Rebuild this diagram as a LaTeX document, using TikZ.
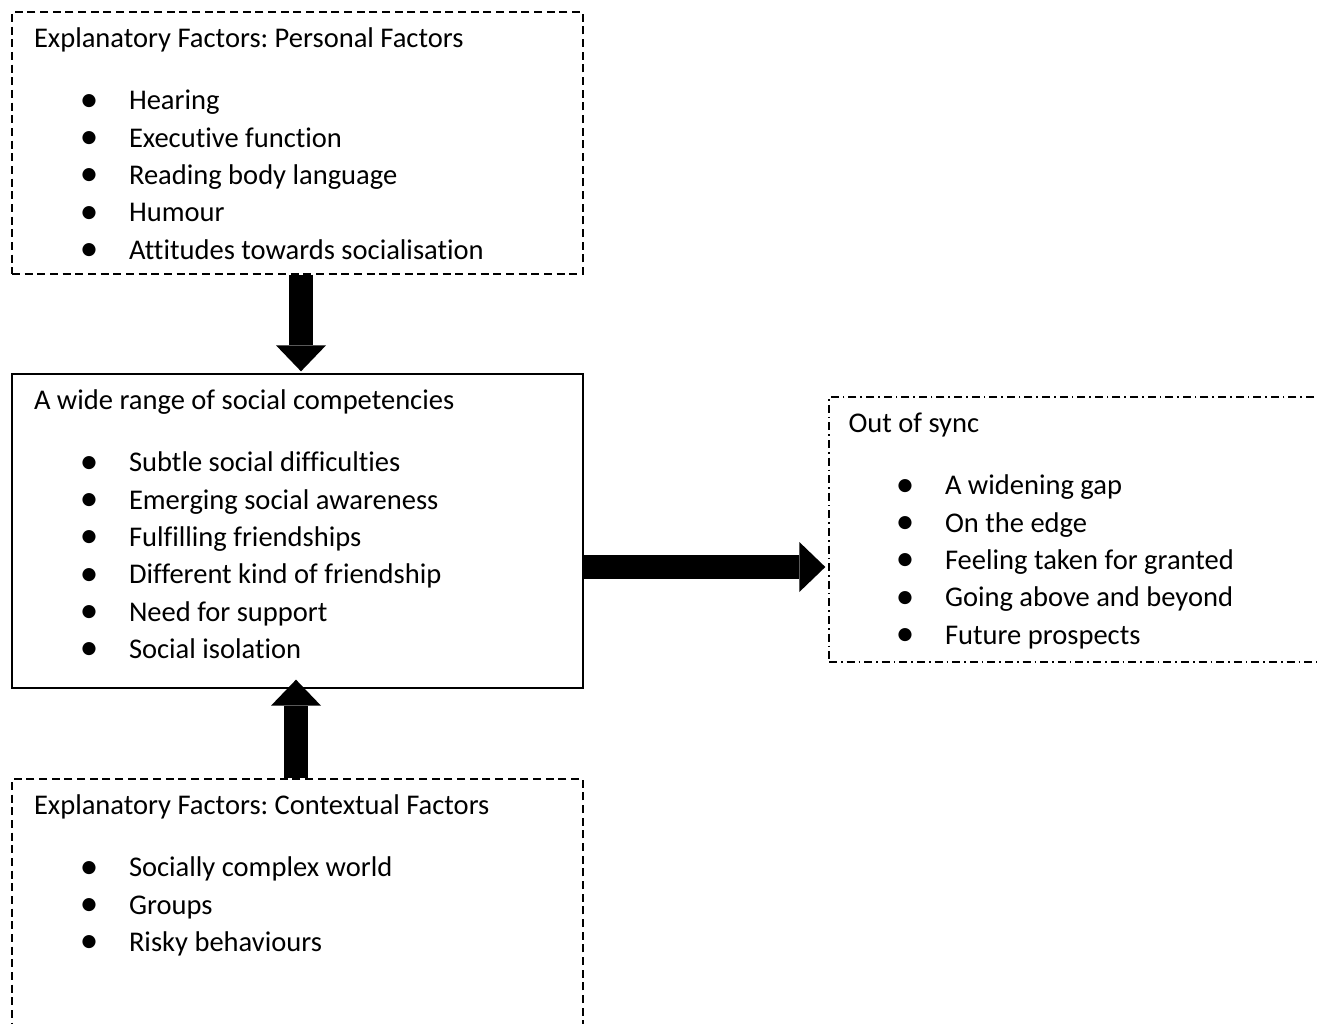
\documentclass[tikz,border=0pt]{standalone}
\usepackage{fontspec}
\setmainfont{Carlito}[Ligatures=CommonOff]
\usetikzlibrary{arrows.meta,calc,fit}
\frenchspacing

\begin{document}
\begin{tikzpicture}[x=0.75pt, y=-0.75pt, line width=1pt,
    blk/.style={line width=18pt, -{Triangle[width=37.5pt,length=19.5pt,line width=0pt]}}]
    \tikzset{
       box/.style={rectangle, draw=black, inner sep=0pt},
       dashbox/.style={box, dash pattern=on 6pt off 3.5pt},
       dotbox/.style={box, dash pattern=on 6pt off 3pt on 1.2pt off 3pt},
       ttl/.style={anchor=base west, inner sep=0pt, font=\fontsize{21.4}{26}\selectfont},
       itm/.style={ttl, execute at begin node={\llap{\makebox[0pt]{\raisebox{-1pt}{\scalebox{1.3}{\textbullet}}}\hspace{30pt}}}},
    }
    \useasboundingbox (0,0) rectangle (1317,1024);
    %--------------------
    \node[dashbox, fit={(12,12) (583,274)}]    (pers) {};
    \node[box,     fit={(12,374) (583,688)}]   (comp) {};
    \node[dashbox, fit={(12,779) (583,1040)}]  (ctx)  {};
    \node[dotbox,  fit={(829,397) (1335,662)}] (sync) {};

    \node[ttl] (pers-t) at ($(pers.north west)+(22,36.5)$) {Explanatory Factors: Personal Factors};
    \foreach \t [count=\i] in {Hearing, Executive function, Reading body language, Humour, Attitudes towards socialisation}
        \node[itm] (pers-\i) at ($(pers-t.base west)+(95,{62+37.3*(\i-1)})$) {\t};

    \node[ttl] (comp-t) at ($(comp.north west)+(22,36.5)$) {A wide range of social competencies};
    \foreach \t [count=\i] in {Subtle social difficulties, Emerging social awareness, Fulfilling friendships, Different kind of friendship, Need for support, Social isolation}
        \node[itm] (comp-\i) at ($(comp-t.base west)+(95,{62+37.3*(\i-1)})$) {\t};

    \node[ttl] (ctx-t) at ($(ctx.north west)+(22,36.5)$) {Explanatory Factors: Contextual Factors};
    \foreach \t [count=\i] in {Socially complex world, Groups, Risky behaviours}
        \node[itm] (ctx-\i) at ($(ctx-t.base west)+(95,{62+37.3*(\i-1)})$) {\t};

    \node[ttl] (sync-t) at ($(sync.north west)+(19.5,36.5)$) {Out of sync};
    \foreach \t [count=\i] in {A widening gap, On the edge, Feeling taken for granted, Going above and beyond, Future prospects}
        \node[itm] (sync-\i) at ($(sync-t.base west)+(96.5,{62+37.3*(\i-1)})$) {\t};
    %--------------------
    \draw[blk] ($(pers.south)+(3.5,0)$) -- ($(comp.north)+(3.5,-2)$);
    \draw[blk] ($(ctx.north)+(-1.5,0)$) -- ($(comp.south)+(-1.5,-9)$);
    \draw[blk] ($(comp.east)+(0,36)$)   -- ($(sync.west)+(-3,37.5)$);
\end{tikzpicture}
\end{document}
